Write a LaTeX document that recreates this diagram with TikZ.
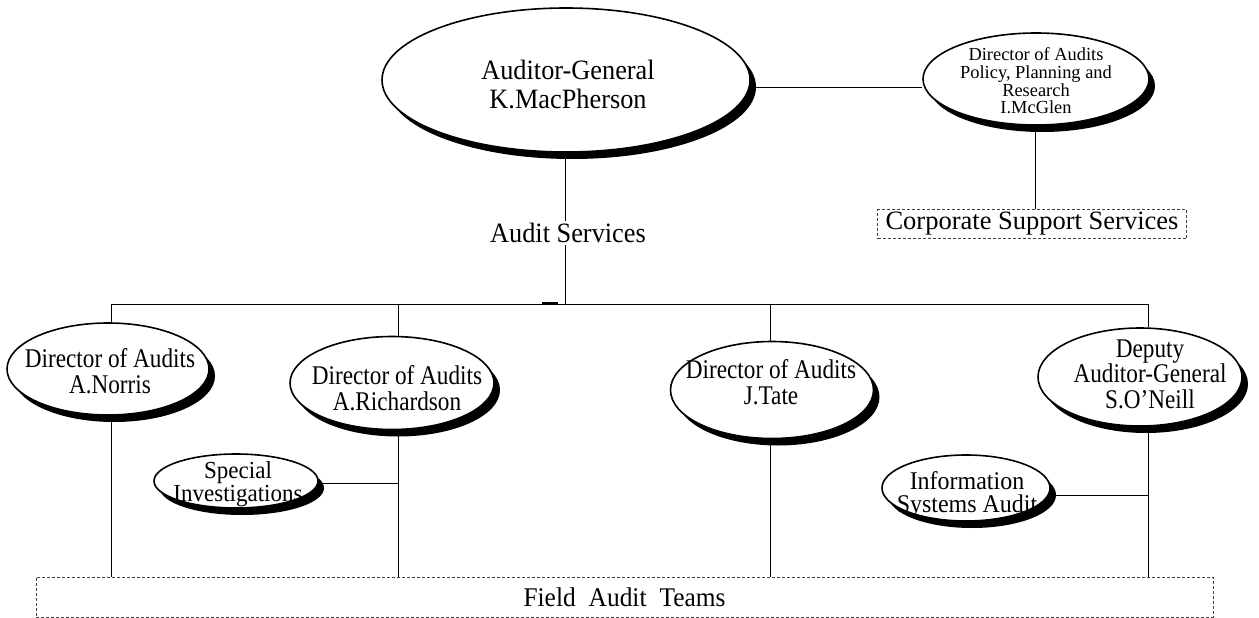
\documentclass[tikz,border=0pt]{standalone}
\usepackage{fontspec}
\setmainfont{Liberation Serif}
\newfontfamily\mfont[FakeStretch=0.94,Ligatures=TeX]{Liberation Serif}
\newfontfamily\dfont[FakeStretch=0.86,Ligatures=TeX]{Liberation Serif}
\usetikzlibrary{shapes.geometric,shadows}
\begin{document}
\begin{tikzpicture}[x=1pt,y=-1pt,
  ell/.style={ellipse, draw, line width=1.6pt, fill=white, inner sep=0pt,
    drop shadow={shadow xshift=6pt, shadow yshift=-7pt, fill=black, opacity=1}},
  txt/.style={align=center, inner sep=0pt},
  bigfont/.style={font=\mfont\fontsize{28}{29}\selectfont},
  dirfont/.style={font=\dfont\fontsize{27}{25.5}\selectfont},
  conn/.style={line width=0.9pt},
  dbox/.style={draw=black!75, dash pattern=on 3pt off 2pt, line width=0.8pt, inner sep=0pt}]
\useasboundingbox (0,0) rectangle (1259,618);

% ellipses
\node[ell, minimum width=368pt, minimum height=144pt] (main) at (566,80) {};
\node[ell, minimum width=226pt, minimum height=92pt] (pol) at (1036,79) {};
\node[ell, minimum width=202pt, minimum height=92pt] (nor) at (108,369) {};
\node[ell, minimum width=204pt, minimum height=93pt] (ric) at (392,383) {};
\node[ell, minimum width=203pt, minimum height=97pt] (tat) at (772,390) {};
\node[ell, minimum width=204pt, minimum height=98pt] (one) at (1140,377) {};
\node[ell, minimum width=164pt, minimum height=54pt] (spe) at (236,481) {};
\node[ell, minimum width=168pt, minimum height=66pt] (inf) at (966,488) {};

% texts in ellipses
\node[txt, bigfont] (mainT) at (568,84) {Auditor-General\\K.MacPherson};
\node[txt, font=\fontsize{18.4}{17.7}\selectfont] (polT) at (1036,81) {Director of Audits\\Policy, Planning and\\Research\\I.McGlen};
\node[txt, dirfont] (norT) at (110,371) {Director of Audits\\A.Norris};
\node[txt, dirfont] (ricT) at (397,388) {Director of Audits\\A.Richardson};
\node[txt, dirfont] (tatT) at (771,382) {Director of Audits\\J.Tate};
\node[txt, dirfont] (oneT) at (1150,374) {Deputy\\Auditor-General\\S.O’Neill};
\node[txt, font=\mfont\fontsize{24.5}{21}\selectfont] (speT) at (238,484) {Special\\Investigations};
\node[txt, font=\mfont\fontsize{25.5}{23.5}\selectfont] (infT) at (967,495) {Information\\Systems Audit};

% boxes and plain labels
\node[dbox, minimum width=309pt, minimum height=29pt, font=\fontsize{26.5}{28}\selectfont] (corp) at (1032,224) {Corporate Support Services};
\node[dbox, minimum width=1177pt, minimum height=40pt, font=\mfont\fontsize{27}{28}\selectfont] (field) at (624.5,597) {Field\hspace{13pt}Audit\hspace{13pt}Teams};
\node[txt, bigfont, fill=white, inner sep=2pt] (svc) at (568,233) {Audit Services};

% bus coordinates
\coordinate (bN) at (111,304);
\coordinate (bR) at (398,304);
\coordinate (bS) at (565,304);
\coordinate (bT) at (770,304);
\coordinate (bO) at (1148,304);
\coordinate (jR) at (398,483);
\coordinate (jO) at (1148,495);

% connectors
\draw[conn] ([yshift=-7pt]main.east) -- ([yshift=-8pt]pol.west);
\draw[conn] (pol.south -| corp.north) ++(3pt,0) -- ([xshift=3pt]corp.north);
\draw[conn] (main.south -| bS) -- (svc.north -| bS);
\draw[conn] (svc.south -| bS) -- (bS);
\draw[conn] (bN) -- (bO);
\draw[line width=2.2pt] (542,303.5) -- (558,303.5);
\draw[conn] (bN) -- (bN |- nor.north);
\draw[conn] (bR) -- (bR |- ric.north);
\draw[conn] (bT) -- (bT |- tat.north);
\draw[conn] (bO) -- (bO |- one.north);
\draw[conn] (nor.south -| bN) -- (bN |- field.north);
\draw[conn] (ric.south -| bR) -- (bR |- field.north);
\draw[conn] (tat.south -| bT) -- (bT |- field.north);
\draw[conn] (one.south -| bO) -- (bO |- field.north);
\draw[conn] (spe.east |- jR) -- (jR);
\draw[conn] (inf.east |- jO) -- (jO);
\end{tikzpicture}
\end{document}
